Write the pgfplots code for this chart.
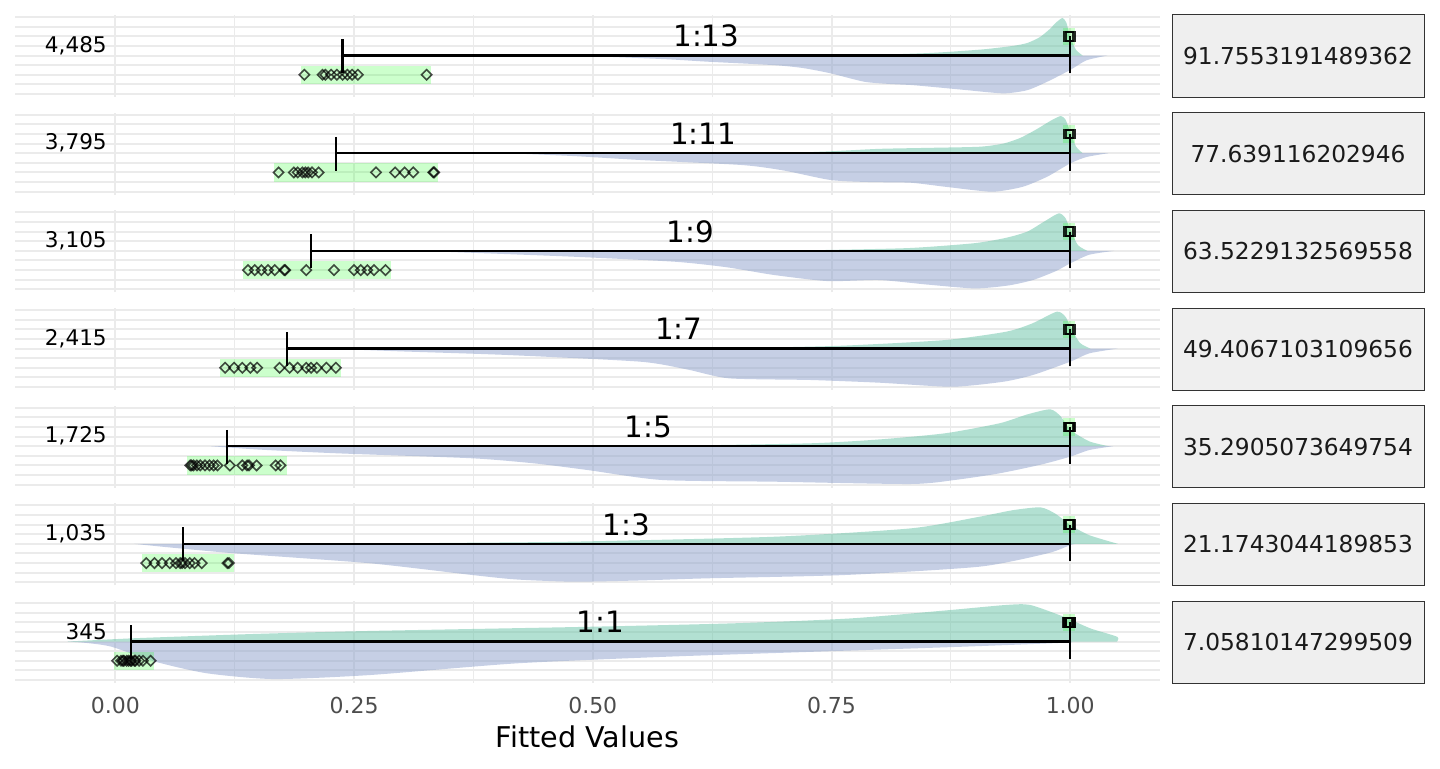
\documentclass[border=0pt]{standalone}
\usepackage{fontspec}
\setmainfont{DejaVu Sans}
\usepackage{pgfplots}
\pgfplotsset{compat=1.18}
\definecolor{gridc}{HTML}{EBEBEB}
\definecolor{dgreen}{HTML}{66C2A5}
\definecolor{dblue}{HTML}{8DA0CB}
\definecolor{stripfill}{HTML}{EFEFEF}
\definecolor{tickc}{HTML}{4D4D4D}
\definecolor{stripborder}{HTML}{333333}
\definecolor{striptext}{HTML}{1A1A1A}
\pgfplotsset{
 panel/.style={
  scale only axis, width=572.5pt, height=41pt, anchor=south west,
  xmin=-0.105, xmax=1.094, ymin=-0.31, ymax=8.21,
  axis line style={draw=none}, tick style={draw=none},
  xtick={0,0.25,0.5,0.75,1}, ytick={0,1,...,8},
  xticklabels={}, yticklabels={},
  grid=major, major grid style={line width=1pt, color=gridc},
  extra x ticks={0.125,0.375,0.625,0.875}, extra x tick labels={},
  extra x tick style={grid=major, major grid style={line width=0.6pt, color=gridc}},
  clip=false,
 },
 dg/.style={draw=none, fill=dgreen, fill opacity=0.5, smooth, tension=0.4},
 db/.style={draw=none, fill=dblue, fill opacity=0.5, smooth, tension=0.4},
 band/.style={draw=none, fill=green, fill opacity=0.2},
 pts/.style={only marks, mark=square, mark size=1.8pt, mark options={rotate=45, draw=black, draw opacity=0.7, fill=none, line width=0.8pt}},
 sq/.style={only marks, mark=square, mark size=2.2pt, mark options={draw=black, draw opacity=0.85, line width=1pt, fill=none}},
 brk/.style={black, line width=1.2pt},
}
\newcommand{\nlab}[1]{\node[anchor=east, inner sep=0pt, font=\fontsize{10.8}{13}\selectfont] at (axis cs:-0.0085,5.05) {#1};}
\newcommand{\rlab}[2]{\node[anchor=base, font=\fontsize{14.7}{17}\selectfont] at (axis cs:#1,4.9) {#2};}
\newcommand{\strip}[2]{%
 \draw[stripborder, line width=0.5pt, fill=stripfill] (586pt,#1pt) rectangle (712pt,#1pt+41pt);
 \node[font=\fontsize{11.65}{14}\selectfont, text=striptext] at (649pt,#1pt+20.5pt) {#2};}
\begin{document}
\begin{tikzpicture}
\path[use as bounding box] (0,0) rectangle (720pt,384pt);
% ---------- panel 1
\begin{axis}[panel, at={(7.5pt,335.5pt)}]
\addplot[db] coordinates {(0.47,4) (0.52,3.85) (0.58,3.6) (0.62,3.36) (0.69,3.0) (0.72,2.7) (0.749,2.15) (0.784,1.28) (0.81,1.05) (0.834,0.93) (0.86,0.7) (0.89,0.42) (0.93,0.07) (0.955,0.4) (0.976,1.28) (1.0,2.5) (1.017,3.5) (1.039,4)};
\addplot[dg] coordinates {(0.75,4) (0.80,4.08) (0.85,4.25) (0.876,4.4) (0.91,4.65) (0.94,5.0) (0.955,5.3) (0.968,5.9) (0.978,6.7) (0.986,7.5) (0.992,7.9) (0.996,7.4) (1.0,5.9) (1.006,4.6) (1.013,4)};
\addplot[band] coordinates {(0.194,1.05) (0.331,1.05) (0.331,2.95) (0.194,2.95)};
\addplot[band] coordinates {(0.992,5.1) (1.005,5.1) (1.005,6.9) (0.992,6.9)};
\addplot[brk] coordinates {(0.238,5.7) (0.238,2.2)};
\addplot[brk] coordinates {(0.238,4) (1.0,4)};
\addplot[brk] coordinates {(1.0,6) (1.0,2.2)};
\addplot[pts] coordinates {(0.198,2) (0.217,2) (0.220,2) (0.226,2) (0.232,2) (0.238,2) (0.243,2) (0.248,2) (0.254,2) (0.326,2)};
\addplot[sq] coordinates {(0.998,6) (1.0,6)};
\nlab{4,485}
\rlab{0.619}{1:13}
\end{axis}
\strip{335.5}{91.7553191489362}
% ---------- panel 2
\begin{axis}[panel, at={(7.5pt,286.67pt)}]
\addplot[db] coordinates {(0.41,4) (0.48,3.7) (0.55,3.29) (0.656,2.77) (0.70,2.2) (0.749,1.21) (0.79,1.0) (0.833,0.93) (0.87,0.5) (0.918,0.0) (0.95,0.5) (0.976,1.56) (1.0,2.94) (1.017,3.6) (1.04,4)};
\addplot[dg] coordinates {(0.70,4) (0.75,4.2) (0.80,4.45) (0.85,4.55) (0.905,4.67) (0.93,5.0) (0.948,5.6) (0.965,6.5) (0.98,7.4) (0.99,7.86) (0.995,7.5) (1.0,6.2) (1.006,4.7) (1.013,4)};
\addplot[band] coordinates {(0.1665,1.05) (0.338,1.05) (0.338,2.95) (0.1665,2.95)};
\addplot[band] coordinates {(0.992,5.1) (1.005,5.1) (1.005,6.9) (0.992,6.9)};
\addplot[brk] coordinates {(0.231,5.7) (0.231,2.2)};
\addplot[brk] coordinates {(0.231,4) (1.0,4)};
\addplot[brk] coordinates {(1.0,6) (1.0,2.2)};
\addplot[pts] coordinates {(0.171,2) (0.187,2) (0.191,2) (0.196,2) (0.199,2) (0.202,2) (0.206,2) (0.213,2) (0.273,2) (0.293,2) (0.303,2) (0.312,2) (0.333,2) (0.334,2)};
\addplot[sq] coordinates {(0.998,6) (1.0,6)};
\nlab{3,795}
\rlab{0.6155}{1:11}
\end{axis}
\strip{286.67}{77.639116202946}
% ---------- panel 3
\begin{axis}[panel, at={(7.5pt,237.83pt)}]
\addplot[db] coordinates {(0.32,4) (0.40,3.7) (0.48,3.39) (0.586,2.87) (0.64,2.3) (0.69,1.49) (0.746,0.86) (0.8,0.97) (0.85,0.5) (0.9,0.1) (0.935,0.4) (0.961,0.97) (0.985,1.9) (1.0,2.7) (1.02,3.6) (1.046,4)};
\addplot[dg] coordinates {(0.68,4) (0.75,4.1) (0.833,4.3) (0.90,4.8) (0.933,5.36) (0.955,6.0) (0.972,7.0) (0.988,7.9) (0.995,7.4) (1.0,6.2) (1.008,4.6) (1.018,4)};
\addplot[band] coordinates {(0.134,1.05) (0.289,1.05) (0.289,2.95) (0.134,2.95)};
\addplot[band] coordinates {(0.992,5.1) (1.005,5.1) (1.005,6.9) (0.992,6.9)};
\addplot[brk] coordinates {(0.205,5.7) (0.205,2.2)};
\addplot[brk] coordinates {(0.205,4) (1.0,4)};
\addplot[brk] coordinates {(1.0,6) (1.0,2.2)};
\addplot[pts] coordinates {(0.139,2) (0.146,2) (0.153,2) (0.160,2) (0.167,2) (0.177,2) (0.178,2) (0.200,2) (0.229,2) (0.250,2) (0.257,2) (0.264,2) (0.271,2) (0.283,2)};
\addplot[sq] coordinates {(0.998,6) (1.0,6)};
\nlab{3,105}
\rlab{0.6025}{1:9}
\end{axis}
\strip{237.83}{63.5229132569558}
% ---------- panel 4
\begin{axis}[panel, at={(7.5pt,189pt)}]
\addplot[db] coordinates {(0.22,4) (0.30,3.7) (0.41,3.33) (0.55,2.63) (0.60,1.8) (0.643,0.9) (0.728,0.73) (0.80,0.45) (0.876,0.03) (0.93,0.55) (0.961,1.25) (1.0,2.63) (1.02,3.5) (1.05,4)};
\addplot[dg] coordinates {(0.60,4) (0.68,4.1) (0.763,4.3) (0.869,4.88) (0.933,5.75) (0.96,6.6) (0.986,7.83) (0.995,7.3) (1.0,6.3) (1.01,4.6) (1.021,4)};
\addplot[band] coordinates {(0.110,1.05) (0.236,1.05) (0.236,2.95) (0.110,2.95)};
\addplot[band] coordinates {(0.992,5.1) (1.005,5.1) (1.005,6.9) (0.992,6.9)};
\addplot[brk] coordinates {(0.180,5.7) (0.180,2.2)};
\addplot[brk] coordinates {(0.180,4) (1.0,4)};
\addplot[brk] coordinates {(1.0,6) (1.0,2.2)};
\addplot[pts] coordinates {(0.115,2) (0.1245,2) (0.133,2) (0.1415,2) (0.1485,2) (0.172,2) (0.1825,2) (0.191,2) (0.200,2) (0.205,2) (0.211,2) (0.221,2) (0.231,2)};
\addplot[sq] coordinates {(0.998,6) (1.0,6)};
\nlab{2,415}
\rlab{0.59}{1:7}
\end{axis}
\strip{189}{49.4067103109656}
% ---------- panel 5
\begin{axis}[panel, at={(7.5pt,140.17pt)}]
\addplot[db] coordinates {(0.10,4) (0.15,3.65) (0.232,3.26) (0.374,2.74) (0.44,2.2) (0.494,1.53) (0.572,0.49) (0.69,0.31) (0.833,0.07) (0.88,0.5) (0.926,1.18) (0.97,2.1) (1.0,2.91) (1.02,3.6) (1.045,4)};
\addplot[dg] coordinates {(0.50,4) (0.586,4.05) (0.728,4.3) (0.80,4.7) (0.869,5.34) (0.926,6.38) (0.955,7.3) (0.979,7.83) (0.99,7.1) (1.0,5.7) (1.02,4.5) (1.04,4)};
\addplot[band] coordinates {(0.075,1.05) (0.18,1.05) (0.18,2.95) (0.075,2.95)};
\addplot[band] coordinates {(0.992,5.1) (1.005,5.1) (1.005,6.9) (0.992,6.9)};
\addplot[brk] coordinates {(0.117,5.7) (0.117,2.2)};
\addplot[brk] coordinates {(0.117,4) (1.0,4)};
\addplot[brk] coordinates {(1.0,6) (1.0,2.2)};
\addplot[pts] coordinates {(0.0785,2) (0.080,2) (0.082,2) (0.0855,2) (0.089,2) (0.094,2) (0.0987,2) (0.103,2) (0.107,2) (0.12,2) (0.133,2) (0.138,2) (0.14,2) (0.148,2) (0.168,2) (0.173,2)};
\addplot[sq] coordinates {(0.998,6) (0.999,6) (1.0,6)};
\nlab{1,725}
\rlab{0.5585}{1:5}
\end{axis}
\strip{140.17}{35.2905073649754}
% ---------- panel 6
\begin{axis}[panel, at={(7.5pt,91.33pt)}]
\addplot[db] coordinates {(0.02,4) (0.06,3.6) (0.126,3.01) (0.267,1.98) (0.374,0.76) (0.42,0.3) (0.48,0.07) (0.55,0.2) (0.62,0.42) (0.763,0.76) (0.905,1.63) (0.976,3.01) (1.0,3.87) (1.005,4)};
\addplot[dg] coordinates {(0.25,4) (0.35,4.1) (0.48,4.23) (0.69,4.74) (0.833,5.61) (0.905,6.82) (0.94,7.5) (0.969,7.79) (0.985,7.1) (1.0,5.96) (1.02,4.9) (1.05,4)};
\addplot[band] coordinates {(0.028,1.05) (0.1245,1.05) (0.1245,2.95) (0.028,2.95)};
\addplot[band] coordinates {(0.992,5.1) (1.005,5.1) (1.005,6.9) (0.992,6.9)};
\addplot[brk] coordinates {(0.0707,5.7) (0.0707,2.2)};
\addplot[brk] coordinates {(0.0707,4) (1.0,4)};
\addplot[brk] coordinates {(1.0,6) (1.0,2.2)};
\addplot[pts] coordinates {(0.0325,2) (0.041,2) (0.049,2) (0.057,2) (0.0636,2) (0.068,2) (0.070,2) (0.073,2) (0.078,2) (0.083,2) (0.0905,2) (0.1174,2) (0.119,2)};
\addplot[sq] coordinates {(0.998,6) (0.999,6) (1.0,6)};
\nlab{1,035}
\rlab{0.535}{1:3}
\end{axis}
\strip{91.33}{21.1743044189853}
% ---------- panel 7
\begin{axis}[panel, at={(7.5pt,42.5pt)},
  xticklabels={0.00,0.25,0.50,0.75,1.00},
  xticklabel style={font=\fontsize{11}{13}\selectfont, text=tickc, anchor=center, inner sep=0pt, yshift=-11.35pt},
  xlabel={Fitted Values},
  xlabel style={font=\fontsize{14.3}{17}\selectfont, at={(axis description cs:0.5,0)}, anchor=center, yshift=-27pt}]
\addplot[db] coordinates {(-0.05,4) (-0.03,3.85) (-0.004,3.46) (0.042,1.9) (0.096,0.7) (0.166,0.1) (0.267,0.52) (0.42,1.73) (0.577,2.42) (0.732,2.94) (0.887,3.46) (0.995,3.88) (1.0,4)};
\addplot[dg] coordinates {(-0.05,4) (0.0,4.25) (0.035,4.4) (0.15,4.8) (0.267,5.1) (0.5,5.54) (0.65,5.9) (0.77,6.4) (0.874,7.27) (0.933,7.8) (0.958,7.8) (0.993,6.58) (1.021,5.37) (1.049,4.5) (1.049,4)};
\addplot[band] coordinates {(-0.001,1.05) (0.041,1.05) (0.041,2.95) (-0.001,2.95)};
\addplot[band] coordinates {(0.992,5.1) (1.005,5.1) (1.005,6.9) (0.992,6.9)};
\addplot[brk] coordinates {(0.0164,5.7) (0.0164,2.2)};
\addplot[brk] coordinates {(0.0164,4) (1.0,4)};
\addplot[brk] coordinates {(1.0,6) (1.0,2.2)};
\addplot[pts] coordinates {(0.002,2) (0.006,2) (0.008,2) (0.009,2) (0.012,2) (0.014,2) (0.016,2) (0.017,2) (0.020,2) (0.021,2) (0.025,2) (0.029,2) (0.037,2)};
\addplot[sq] coordinates {(0.997,6) (0.998,6) (0.999,6) (1.0,6) (1.0,6)};
\nlab{345}
\rlab{0.508}{1:1}
\end{axis}
\strip{42.5}{7.05810147299509}
\end{tikzpicture}
\end{document}
